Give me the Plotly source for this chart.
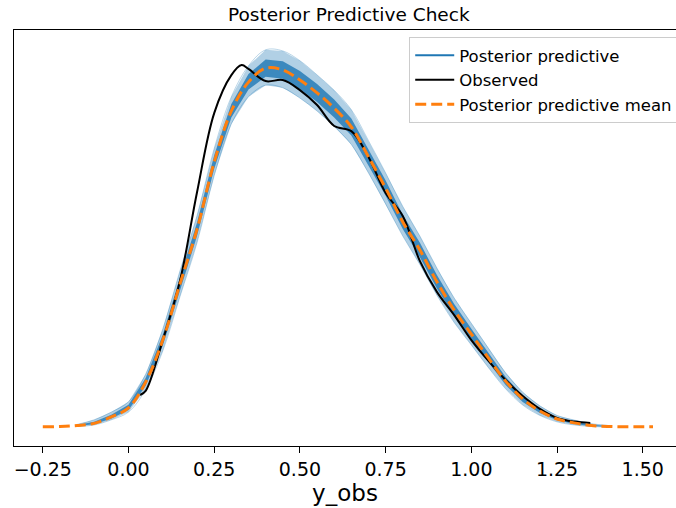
import plotly.graph_objects as go

# ---- data ----
grid_x = [-0.25, -0.2, -0.15, -0.1, -0.05, 0.0, 0.05, 0.1, 0.15, 0.2, 0.25, 0.3, 0.35, 0.4,
          0.45, 0.5, 0.55, 0.6, 0.65, 0.7, 0.75, 0.8, 0.85, 0.9, 0.95, 1.0, 1.05, 1.1,
          1.15, 1.2, 1.25, 1.3, 1.35, 1.4, 1.45, 1.5, 1.53]
pp_mean = [0.001, 0.002, 0.006, 0.014, 0.039, 0.074, 0.174, 0.337, 0.554, 0.767, 1.027, 1.225,
           1.337, 1.391, 1.384, 1.345, 1.295, 1.236, 1.163, 1.047, 0.926, 0.795, 0.686, 0.562,
           0.453, 0.360, 0.267, 0.178, 0.109, 0.062, 0.031, 0.016, 0.006, 0.002, 0.001, 0.001, 0.001]

band_x = [-0.15, -0.1, -0.05, 0.0, 0.05, 0.1, 0.15, 0.2, 0.25, 0.3, 0.35, 0.4, 0.45, 0.5,
          0.55, 0.6, 0.65, 0.7, 0.75, 0.8, 0.85, 0.9, 0.95, 1.0, 1.05, 1.1, 1.15, 1.2,
          1.25, 1.3, 1.35, 1.4]
pp_outer_lo = [0.002, 0.008, 0.028, 0.058, 0.145, 0.295, 0.505, 0.715, 0.975, 1.175, 1.280, 1.325,
               1.315, 1.275, 1.225, 1.165, 1.095, 0.985, 0.865, 0.740, 0.630, 0.510, 0.405, 0.318,
               0.230, 0.148, 0.085, 0.045, 0.020, 0.008, 0.002, 0.000]
pp_outer_hi = [0.010, 0.028, 0.058, 0.098, 0.205, 0.380, 0.605, 0.820, 1.080, 1.280, 1.400, 1.462,
               1.458, 1.420, 1.365, 1.305, 1.230, 1.110, 0.985, 0.855, 0.740, 0.615, 0.500, 0.402,
               0.305, 0.210, 0.135, 0.082, 0.045, 0.027, 0.013, 0.006]
pp_inner_lo = [0.004, 0.011, 0.033, 0.066, 0.160, 0.316, 0.530, 0.741, 1.001, 1.200, 1.308, 1.358,
               1.350, 1.310, 1.260, 1.200, 1.130, 1.016, 0.896, 0.768, 0.658, 0.536, 0.430, 0.339,
               0.249, 0.163, 0.097, 0.054, 0.026, 0.012, 0.004, 0.001]
pp_inner_hi = [0.008, 0.020, 0.048, 0.086, 0.190, 0.358, 0.580, 0.793, 1.053, 1.252, 1.368, 1.425,
               1.418, 1.380, 1.330, 1.270, 1.196, 1.078, 0.956, 0.823, 0.714, 0.588, 0.477, 0.381,
               0.286, 0.194, 0.122, 0.071, 0.037, 0.021, 0.009, 0.004]

obs_x = [0.034, 0.05, 0.1, 0.15, 0.2, 0.25, 0.3, 0.33, 0.35, 0.4, 0.45, 0.5, 0.55, 0.6, 0.65,
         0.7, 0.75, 0.8, 0.85, 0.9, 0.95, 1.0, 1.05, 1.1, 1.15, 1.2, 1.25, 1.3, 1.347]
obs_y = [0.124, 0.140, 0.337, 0.566, 0.911, 1.217, 1.364, 1.403, 1.388, 1.341, 1.345, 1.306,
         1.248, 1.167, 1.147, 1.047, 0.907, 0.818, 0.643, 0.523, 0.434, 0.337, 0.256, 0.182,
         0.120, 0.070, 0.035, 0.021, 0.016]

tick_vals = [-0.25, 0.0, 0.25, 0.5, 0.75, 1.0, 1.25, 1.5]

BLUE = "#1f77b4"
FONT = "DejaVu Sans"

fig = go.Figure()

# outer band
fig.add_trace(go.Scatter(
    x=band_x + band_x[::-1], y=pp_outer_hi + pp_outer_lo[::-1],
    fill="toself", fillcolor="rgba(31,119,180,0.35)", line=dict(width=0),
    mode="lines", hoverinfo="skip", showlegend=False))
# inner band
fig.add_trace(go.Scatter(
    x=band_x + band_x[::-1], y=pp_inner_hi + pp_inner_lo[::-1],
    fill="toself", fillcolor="rgba(31,119,180,0.8)", line=dict(width=0),
    mode="lines", hoverinfo="skip", showlegend=False))
# envelope lines for texture
for arr in (pp_outer_hi, pp_outer_lo):
    fig.add_trace(go.Scatter(x=band_x, y=arr, mode="lines",
                             line=dict(color="rgba(31,119,180,0.3)", width=1, shape="spline"),
                             hoverinfo="skip", showlegend=False))
# legend entry for posterior predictive
fig.add_trace(go.Scatter(x=[None], y=[None], mode="lines", name="Posterior predictive",
                         line=dict(color=BLUE, width=2), legendrank=1))

fig.add_trace(go.Scatter(x=obs_x, y=obs_y, mode="lines", name="Observed",
                         line=dict(color="black", width=2, shape="spline"), legendrank=2))
fig.add_trace(go.Scatter(x=grid_x, y=pp_mean, mode="lines", name="Posterior predictive mean",
                         line=dict(color="#ff7f0e", width=3, dash="11px,5px", shape="spline"),
                         legendrank=3))

fig.update_layout(
    width=676, height=508,
    margin=dict(l=14, r=0, t=30, b=62, autoexpand=False),
    paper_bgcolor="white", plot_bgcolor="white",
    font=dict(family=FONT, color="black"),
    title=dict(text="Posterior Predictive Check", x=0.516, xanchor="center",
               y=1 - 15 / 508, yanchor="middle", font=dict(size=18.5, family=FONT)),
    legend=dict(x=0.597, y=0.983, xanchor="left", yanchor="top",
                bgcolor="white", bordercolor="#cccccc", borderwidth=1,
                itemwidth=39,
                font=dict(size=16.5, family=FONT), traceorder="normal"),
    showlegend=True,
)
fig.update_xaxes(range=[-0.334, 1.597], tickvals=tick_vals, tickformat=".2f",
                 ticks="outside", ticklen=6, tickcolor="black", showline=True,
                 linecolor="black", linewidth=1, mirror=True, showgrid=False,
                 zeroline=False, tickfont=dict(size=19, family=FONT),
                 title=dict(text="y_obs", font=dict(size=23, family=FONT), standoff=4))
fig.update_yaxes(range=[-0.0736, 1.539], showticklabels=False, ticks="",
                 showline=True, linecolor="black", linewidth=1, mirror=False,
                 showgrid=False, zeroline=False)

fig.write_html("out.html")
